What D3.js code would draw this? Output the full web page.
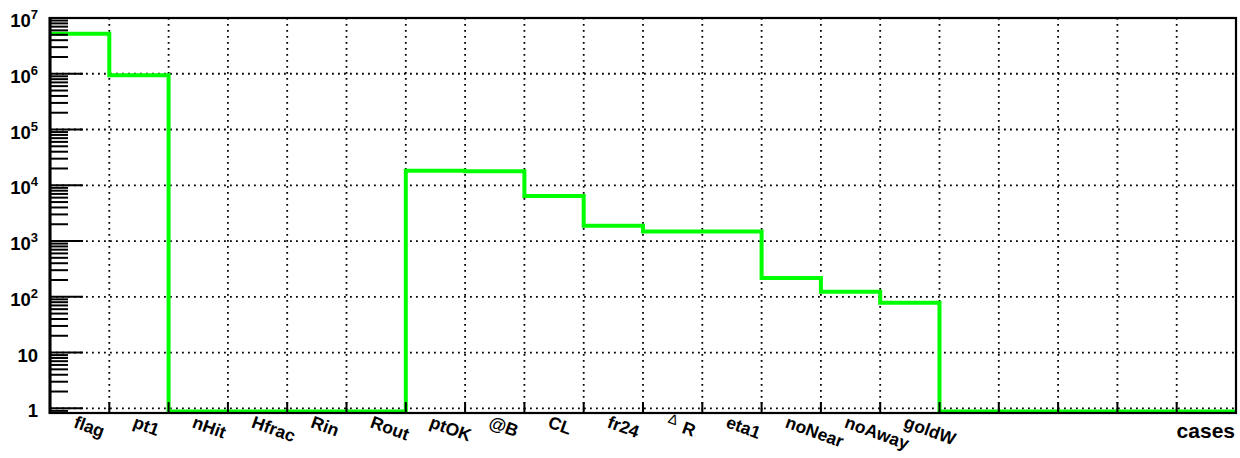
<!DOCTYPE html>
<html>
<head>
<meta charset="utf-8">
<script src="https://cdn.jsdelivr.net/npm/d3@7"></script>
<style>
  html, body { margin: 0; padding: 0; background: #fff; }
  svg { display: block; font-family: "Liberation Sans", Arial, Helvetica, sans-serif; }
</style>
</head>
<body>
<svg id="chart" width="1240" height="458"></svg>
<script>
// ---- data ----
const categories = ["flag", "pt1", "nHit", "Hfrac", "Rin", "Rout", "ptOK", "@B", "CL", "fr24",
                    "\u0394 R", "eta1", "noNear", "noAway", "goldW", "", "", "", "", ""];
const counts = [5.2e6, 9.4e5, 0, 0, 0, 0, 1.83e4, 1.78e4, 6.4e3, 1.88e3,
                1.49e3, 1.48e3, 218, 123, 78, 0, 0, 0, 0, 0];
const yTickValues = [1, 10, 100, 1e3, 1e4, 1e5, 1e6, 1e7];
const yTickLabels = [["1", ""], ["10", ""], ["10", "2"], ["10", "3"], ["10", "4"], ["10", "5"], ["10", "6"], ["10", "7"]];
const xTitle = "cases";

// ---- layout ----
const svg = d3.select("#chart");
const L = 50, R = 1236, T = 18, B = 413;
const nBins = categories.length;
const x = d3.scaleLinear().domain([0, nBins]).range([L, R]);
const y = d3.scaleLog().domain([0.824, 1e7]).range([B, T]);

// grid (dotted)
const grid = svg.append("g").attr("stroke", "#000").attr("stroke-width", 1.8)
  .attr("stroke-dasharray", "1.8,4.2").attr("fill", "none");
d3.range(1, nBins).forEach(i => {
  grid.append("line").attr("x1", x(i)).attr("x2", x(i)).attr("y1", T).attr("y2", B);
});
yTickValues.filter(v => v < 1e7).forEach(v => {
  grid.append("line").attr("x1", L).attr("x2", R).attr("y1", y(v)).attr("y2", y(v));
});

// histogram step line
const pts = [];
counts.forEach((v, i) => {
  const yy = v > 0 ? y(v) : B - 1.5;
  pts.push([x(i), yy], [x(i + 1), yy]);
});
svg.append("path")
  .attr("d", d3.line()(pts))
  .attr("fill", "none")
  .attr("stroke", "#00ff00")
  .attr("stroke-width", 4)
  .attr("stroke-linejoin", "miter");

// frame
svg.append("rect").attr("x", L).attr("y", T).attr("width", R - L).attr("height", B - T)
  .attr("fill", "none").attr("stroke", "#000").attr("stroke-width", 2.2);
svg.append("line").attr("x1", L).attr("x2", L).attr("y1", T - 1).attr("y2", B + 1)
  .attr("stroke", "#000").attr("stroke-width", 3);

// y ticks (log, major + minor)
const ticks = svg.append("g").attr("stroke", "#000").attr("stroke-width", 2);
const [d0, d1] = y.domain();
for (let e = -1; e <= 7; e++) {
  for (let k = 1; k <= 9; k++) {
    const v = k * Math.pow(10, e);
    if (v < d0 || v > d1) continue;
    const len = k === 1 ? 33 : 18;
    ticks.append("line").attr("x1", L).attr("x2", L + len).attr("y1", y(v)).attr("y2", y(v));
  }
}
// x ticks at bin edges
d3.range(1, nBins).forEach(i => {
  ticks.append("line").attr("x1", x(i)).attr("x2", x(i)).attr("y1", B).attr("y2", B - 11);
});

// y labels
yTickValues.forEach((v, i) => {
  const t = svg.append("text")
    .attr("x", 38).attr("y", y(v) + 9)
    .attr("text-anchor", "end")
    .attr("font-size", 18.5).attr("font-weight", "bold").attr("fill", "#000");
  t.append("tspan").text(yTickLabels[i][0]);
  if (yTickLabels[i][1]) {
    t.append("tspan").attr("dy", -8).attr("font-size", 13).text(yTickLabels[i][1]);
  }
});

// x category labels (rotated)
categories.forEach((c, i) => {
  if (!c) return;
  const cx = x(i + 0.5) - 7, cy = 427;
  const t = svg.append("text")
    .attr("transform", `translate(${cx},${cy}) rotate(20)`)
    .attr("font-size", 17.5).attr("font-weight", "bold").attr("fill", "#000");
  if (c.startsWith("\u0394")) {
    t.append("tspan").attr("font-weight", "normal").attr("font-size", 14).attr("dy", -5).text("\u0394");
    t.append("tspan").attr("dy", 5).attr("dx", 7).text(c.slice(2));
  } else {
    t.text(c);
  }
});

// x title
svg.append("text")
  .attr("x", 1235).attr("y", 438)
  .attr("text-anchor", "end")
  .attr("font-size", 21).attr("font-weight", "bold").attr("fill", "#000")
  .text(xTitle);
</script>
</body>
</html>
